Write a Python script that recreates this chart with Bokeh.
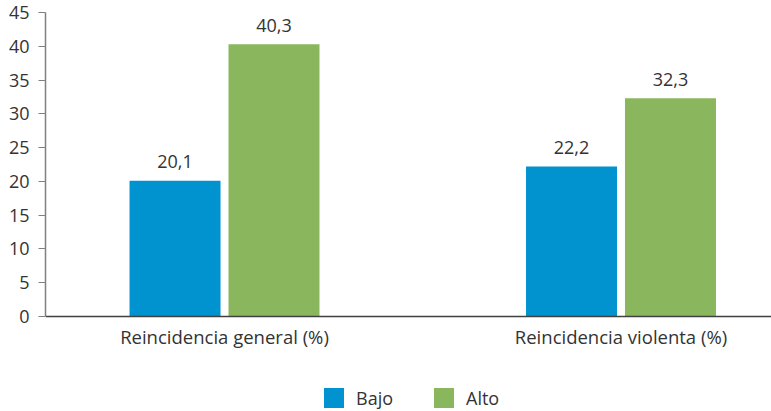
from bokeh.plotting import figure
from bokeh.models import Range1d, FixedTicker, Legend, LegendItem, ColumnDataSource
from bokeh.core.properties import value
from bokeh.embed import file_html
from bokeh.resources import INLINE

categories = ["Reincidencia general (%)", "Reincidencia violenta (%)"]
series_names = ["Bajo", "Alto"]
bajo = [20.1, 22.2]
alto = [40.3, 32.3]
colors = ["#0093CF", "#8AB75E"]
y_ticks = [0, 5, 10, 15, 20, 25, 30, 35, 40, 45]

FONT = "Open Sans"
TEXT_COLOR = "#333333"
FS = "18px"

p = figure(width=771, height=411, output_backend="svg", toolbar_location=None,
           x_range=Range1d(-0.4515, 1.3796), y_range=Range1d(-14.06, 45))
p.min_border_left = 45
p.min_border_top = 12
p.min_border_right = 0
p.min_border_bottom = 0
p.outline_line_color = None
p.grid.visible = False
p.background_fill_color = None
p.border_fill_color = "white"

xpos = list(range(len(categories)))
offset = 0.1248
width = 0.2295
renderers = []
labels_fmt = lambda v: f"{v:.1f}".replace(".", ",")
for i, (name, vals) in enumerate(zip(series_names, [bajo, alto])):
    xs = [x + (-offset if i == 0 else offset) for x in xpos]
    src = ColumnDataSource(dict(x=xs, top=vals, lab=[labels_fmt(v) for v in vals]))
    r = p.vbar(x="x", top="top", width=width, bottom=0, source=src,
               fill_color=colors[i], line_color=None)
    renderers.append(r)
    p.text(x="x", y="top", text="lab", source=src, text_align="center",
           text_baseline="alphabetic", y_offset=-19, text_font=value(FONT),
           text_font_size=FS, text_color=TEXT_COLOR)

# axes
p.xaxis.fixed_location = 0
p.xaxis.ticker = FixedTicker(ticks=xpos)
p.xaxis.major_label_overrides = {i: c for i, c in enumerate(categories)}
p.xaxis.major_tick_line_color = None
p.xaxis.minor_tick_line_color = None
p.xaxis.axis_line_color = "#404040"
p.xaxis.axis_line_width = 1.5
p.xaxis.major_label_text_font = FONT
p.xaxis.major_label_text_font_size = "18.5px"
p.xaxis.major_label_text_color = TEXT_COLOR
p.xaxis.major_label_standoff = 1

p.yaxis.bounds = (0, 45)
p.yaxis.ticker = FixedTicker(ticks=y_ticks)
p.yaxis.minor_tick_line_color = None
p.yaxis.axis_line_color = "#808080"
p.yaxis.axis_line_width = 1.5
p.yaxis.major_tick_line_color = "#808080"
p.yaxis.major_tick_out = 7
p.yaxis.major_tick_in = 0
p.yaxis.major_label_text_font = FONT
p.yaxis.major_label_text_font_size = FS
p.yaxis.major_label_text_color = TEXT_COLOR
p.yaxis.major_label_standoff = 9

legend = Legend(items=[LegendItem(label=n, renderers=[r]) for n, r in zip(series_names, renderers)],
                orientation="horizontal", location=(276, 1),
                glyph_width=25, glyph_height=25, label_standoff=10, spacing=38,
                padding=0, margin=0, border_line_color=None, background_fill_alpha=0,
                label_text_font=FONT, label_text_font_size=FS, label_text_color=TEXT_COLOR)
p.add_layout(legend, "center")

open("out.html", "w").write(file_html(p, INLINE))
